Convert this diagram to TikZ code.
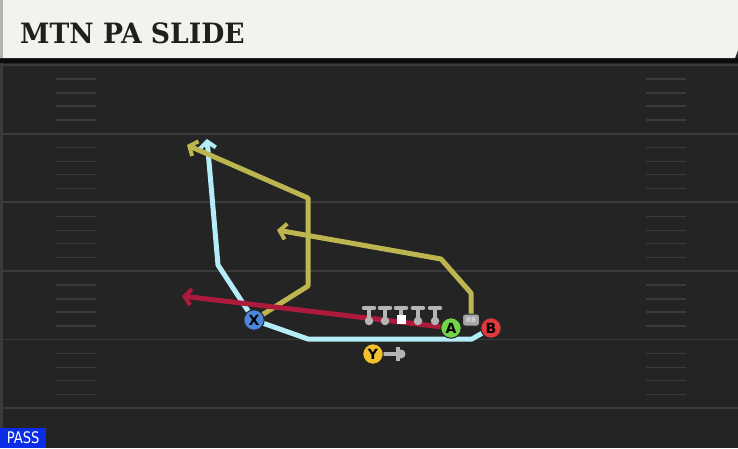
\documentclass[tikz,border=0pt]{standalone}
\usepackage{fontspec}
\setmainfont{DejaVu Sans}
\newfontfamily\titlefont{DejaVu Serif}
\usetikzlibrary{arrows.meta}
\pgfdeclarelayer{fieldlayer}
\pgfdeclarelayer{edgelayer}
\pgfsetlayers{fieldlayer,edgelayer,main}

\definecolor{fieldbg}{HTML}{242424}
\definecolor{fieldline}{HTML}{3A3A3A}
\definecolor{headbg}{HTML}{F4F2EC}
\definecolor{routeblue}{HTML}{B4ECF7}
\definecolor{routegold}{HTML}{BDB650}
\definecolor{routered}{HTML}{AE1A3C}
\definecolor{linegray}{HTML}{B5B5B5}
\definecolor{passblue}{HTML}{0A2EE6}
\definecolor{xblue}{HTML}{4A86DA}
\definecolor{agreen}{HTML}{72D448}
\definecolor{bred}{HTML}{E23A3C}
\definecolor{ygold}{HTML}{F2C22E}

\tikzstyle{route}  = [line width=5pt,
                      line join=round,
                      -{Straight Barb[length=6.5pt,width=16pt,line width=4pt]}]
\tikzstyle{player} = [circle,
                      minimum size=20.5pt,
                      inner sep=0pt,
                      draw=black!85,
                      line width=1pt,
                      font=\bfseries\fontsize{14}{14}\selectfont]
\tikzstyle{lineman} = [draw=linegray, line width=3.4pt, line cap=round]

\begin{document}
\begin{tikzpicture}[x=1pt,y=-1pt]

  \useasboundingbox (0,0) rectangle (738,448);

  % Field
  \begin{pgfonlayer}{fieldlayer}
    \fill[fieldbg] (0,0) rectangle (738,448);
    \foreach \yl in {65,133.6,202.2,270.8,339.4,408} {
      \draw[fieldline, line width=1.8pt] (0,\yl) -- (738,\yl);
    }
    \foreach \yl in {65,133.6,202.2,270.8,339.4} {
      \foreach \off in {14,28,41,55} {
        \draw[fieldline, line width=1.4pt] (56,\yl+\off) -- (96,\yl+\off);
        \draw[fieldline, line width=1.4pt] (646,\yl+\off) -- (686,\yl+\off);
      }
    }
    \fill[black!70!fieldbg] (0,58) rectangle (738,63);
    \fill[fieldline] (0,63) rectangle (3,448);
  \end{pgfonlayer}

  % Header
  \fill[headbg] (0,0) -- (738,0) -- (738,50) -- (735,58) -- (0,58) -- cycle;
  \fill[black!30] (0,0) rectangle (3,58);
  \node[anchor=west, inner sep=0pt, text=black!88] (title) at (20,33)
    {\scalebox{0.95}[1]{\titlefont\bfseries\fontsize{28}{28}\selectfont MTN PA SLIDE}};

  % Nodes
  \node[player, fill=xblue] (x) at (254,320) {X};
  \node[player, fill=agreen] (a) at (451,328) {A};
  \node[player, fill=bred] (b) at (491,328) {B};
  \node[player, fill=ygold] (y) at (373,354) {Y};
  \node[draw=black!85, fill=black!35, rounded corners=2.5pt, minimum width=17pt,
        minimum height=12pt, inner sep=0pt, line width=1pt,
        font=\bfseries\fontsize{6.5}{6.5}\selectfont, text=black!15] (rb) at (471,320) {RB};

  % Line
  \foreach \lx/\ln in {369/lt,385/lg,418/rg,435/rt} {
    \draw[lineman] (\lx-5.5,308) -- (\lx+5.5,308) (\lx,308) -- (\lx,319);
    \node[circle, fill=linegray, minimum size=8.5pt, inner sep=0pt] (\ln) at (\lx,321) {};
  }
  \draw[lineman] (395.5,308) -- (406.5,308) (401,308) -- (401,316);
  \node[fill=white, minimum size=9pt, inner sep=0pt] (c) at (401,319.5) {};

  % Route waypoints
  \coordinate (xb1) at (472,339);
  \coordinate (xb2) at (308,339);
  \coordinate (xb3) at (218,265);
  \coordinate (xend) at (207,139);
  \coordinate (xg1) at (308,286);
  \coordinate (xg2) at (308,198);
  \coordinate (xgend) at (187,145);
  \coordinate (rb1) at (471,293);
  \coordinate (rb2) at (441,259);
  \coordinate (rbend) at (277,230);
  \coordinate (aend) at (182,296);
  \coordinate (yblock) at (398,354);

  % Edges
  \begin{pgfonlayer}{edgelayer}
    \draw[route, routeblue] (b.center) -- (xb1) -- (xb2) -- (x.center) -- (xb3) -- (xend);
    \draw[route, routegold] (x.center) -- (xg1) -- (xg2) -- (xgend);
    \draw[route, routegold] (rb.center) -- (rb1) -- (rb2) -- (rbend);
    \draw[route, routered] (a.center) -- (aend);
    \draw[draw=linegray, line width=4pt] (y.center) -- (yblock);
    \draw[draw=linegray, line width=3.2pt] ([yshift=-7pt]yblock) -- ([yshift=7pt]yblock);
    \fill[linegray] ([xshift=3pt]yblock) circle (4.5pt);
  \end{pgfonlayer}

  % Play type
  \node[fill=passblue, text=white, anchor=south west, minimum width=46pt,
        minimum height=20pt, inner sep=0pt, font=\fontsize{16}{16}\selectfont] (pass) at (0,448) {\scalebox{0.82}[1]{PASS}};

\end{tikzpicture}
\end{document}
